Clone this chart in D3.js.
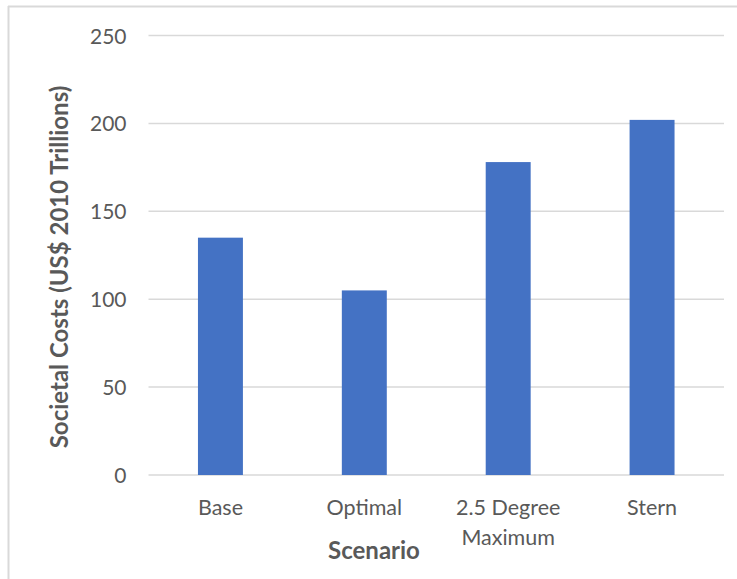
<!DOCTYPE html>
<html><head><meta charset="utf-8">
<script src="https://cdn.jsdelivr.net/npm/d3@7"></script>
<style>body{margin:0;background:#fff}svg{display:block}text{font-family:Lato,"Open Sans",sans-serif}</style>
</head><body>
<script>
const categories = [["Base"], ["Optimal"], ["2.5 Degree", "Maximum"], ["Stern"]];
const values = [135, 105, 178, 202];
const yTicks = [0, 50, 100, 150, 200, 250];
const yTitle = "Societal Costs (US$ 2010 Trillions)";
const xTitle = "Scenario";

const W = 737, H = 579;
const m = {l:148.5, r:13, t:35.5, b:104};
const svg = d3.select("body").append("svg").attr("width", W).attr("height", H);

// border (top and left visible)
svg.append("line").attr("x1",8).attr("x2",W).attr("y1",6.5).attr("y2",6.5).attr("stroke","#d9d9d9").attr("stroke-width",2);
svg.append("line").attr("x1",8.5).attr("x2",8.5).attr("y1",6).attr("y2",H).attr("stroke","#d9d9d9").attr("stroke-width",2);

const keys = categories.map(c => c.join(" "));
const x = d3.scaleBand().domain(keys).range([m.l, W - m.r]).paddingInner(0.6875).paddingOuter(0.34375);
const y = d3.scaleLinear().domain([0, 250]).range([H - m.b, m.t]);

// gridlines
svg.append("g").selectAll("line").data(yTicks).join("line")
  .attr("x1", m.l).attr("x2", W - m.r)
  .attr("y1", d => y(d)).attr("y2", d => y(d))
  .attr("stroke", "#d9d9d9").attr("stroke-width", 1.5);

// y axis labels
const yAxis = svg.append("g").attr("transform", `translate(${m.l},0)`)
  .call(d3.axisLeft(y).tickValues(yTicks).tickSize(0).tickPadding(22));
yAxis.select(".domain").remove();
yAxis.selectAll("text").attr("fill","#595959").attr("font-size",21).attr("font-family","Lato, sans-serif")
  .attr("dy", null).attr("y", 7.5);

// bars
svg.append("g").selectAll("rect").data(values).join("rect")
  .attr("x", (d,i) => x(keys[i])).attr("width", x.bandwidth())
  .attr("y", d => y(d)).attr("height", d => y(0) - y(d))
  .attr("fill", "#4472c4");

// x axis
const xAxis = svg.append("g").attr("transform", `translate(0,${y(0)})`)
  .call(d3.axisBottom(x).tickSize(0));
xAxis.select(".domain").remove();
xAxis.selectAll("text").each(function(d, i){
  const t = d3.select(this).text(null).attr("dy", null).attr("y", null)
    .attr("fill","#595959").attr("font-size",21.5).attr("font-family","Lato, sans-serif");
  categories[i].forEach((s, j) => t.append("tspan").attr("x", 0).attr("y", 40 + j * 30).text(s));
});

// axis titles
svg.append("text").attr("x", 374).attr("y", 559)
  .attr("text-anchor","middle").attr("font-size",24).attr("font-weight","bold").attr("fill","#595959").text(xTitle);
svg.append("text").attr("transform", `translate(68,267) rotate(-90)`)
  .attr("text-anchor","middle").attr("font-size",24).attr("font-weight","bold").attr("fill","#595959").text(yTitle);
</script>
</body></html>
